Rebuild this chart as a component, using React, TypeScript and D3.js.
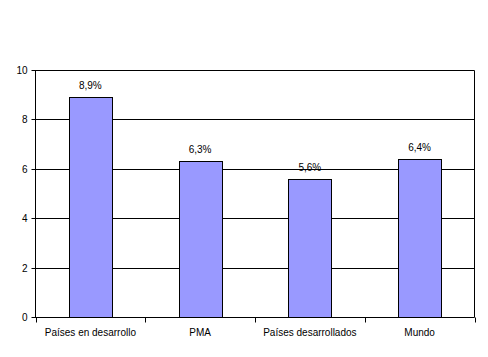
import React from "react";
import * as d3 from "d3";

const categories = ["Países en desarrollo", "PMA", "Países desarrollados", "Mundo"];
const values = [8.9, 6.3, 5.6, 6.4];
const valueLabels = ["8,9%", "6,3%", "5,6%", "6,4%"];
const yTicks = [0, 2, 4, 6, 8, 10];

export default function App() {
  const W = 488, H = 357;
  const left = 35.5, right = 474.5, top = 70, bottom = 317;
  const x = d3.scaleBand<string>().domain(categories).range([left, right]).paddingInner(0).paddingOuter(0);
  const y = d3.scaleLinear().domain([0, 10]).range([bottom, top]);
  const bw = x.bandwidth() * 0.39;
  const font = "Arial, 'Liberation Sans', sans-serif";
  const boundaries = [...categories.map((c) => x(c) as number), right];
  const py = (v: number) => Math.round(y(v)) + 0.5;
  return (
    <svg width={W} height={H} style={{ position: "absolute", left: 0, top: 0 }}>
      <rect x={0} y={0} width={W} height={H} fill="#fff" />
      {yTicks.map((t) => (
        <g key={t}>
          <line x1={left - 4} x2={right} y1={py(t)} y2={py(t)} stroke="#000" strokeWidth={1} />
          <text x={left - 8} y={py(t) + 3.5} fontSize={10} fontFamily={font} textAnchor="end" fill="#000">{t}</text>
        </g>
      ))}
      <line x1={left} x2={left} y1={py(10)} y2={py(0)} stroke="#000" />
      <line x1={right} x2={right} y1={py(10)} y2={py(0)} stroke="#000" />
      {boundaries.map((b, i) => (
        <line key={i} x1={Math.round(b) + 0.5} x2={Math.round(b) + 0.5} y1={py(0)} y2={py(0) + 5} stroke="#000" />
      ))}
      {categories.map((c, i) => {
        const cx = (x(c) as number) + x.bandwidth() / 2;
        const x0 = Math.round(cx - bw / 2) + 0.5;
        const y0 = py(values[i]);
        return (
          <g key={c}>
            <rect x={x0} y={y0} width={Math.round(bw)} height={py(0) - y0} fill="#9999FF" stroke="#000" strokeWidth={1} />
            <text x={cx} y={y0 - 9} fontSize={10} fontFamily={font} textAnchor="middle" fill="#000">{valueLabels[i]}</text>
            <text x={cx} y={py(0) + 18} fontSize={10} fontFamily={font} textAnchor="middle" fill="#000">{c}</text>
          </g>
        );
      })}
    </svg>
  );
}
